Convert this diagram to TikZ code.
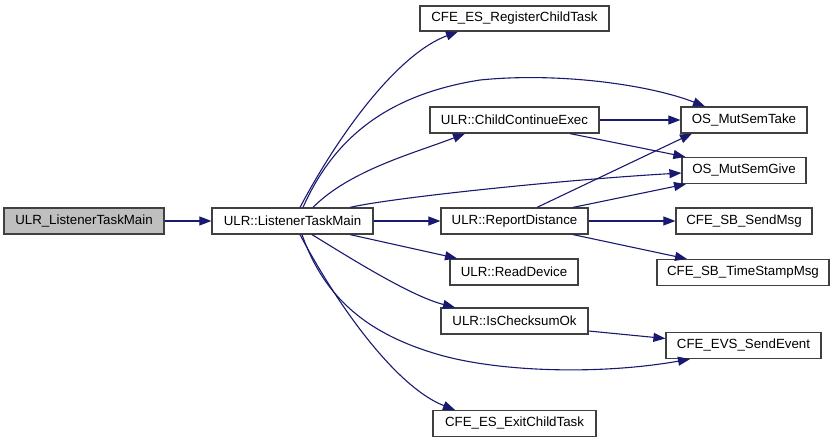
\documentclass[tikz,border=0pt]{standalone}
\usepackage{fontspec}
\setmainfont{Liberation Sans}
\usetikzlibrary{arrows.meta,calc}
\definecolor{edgec}{HTML}{191970}
\definecolor{boxc}{HTML}{404040}
\definecolor{rootgray}{HTML}{BFBFBF}
\begin{document}
\begin{tikzpicture}[x=1pt,y=-1pt,
  fn/.style={draw=boxc, line width=1.2pt, fill=white, minimum height=26pt, inner sep=0pt, font=\fontsize{13.3}{15}\selectfont},
  e/.style={draw=edgec, line width=1.1pt, -{Triangle[length=12pt,width=9pt]}}]
\useasboundingbox (0,0) rectangle (836,443);
\node[fn, fill=rootgray, minimum width=160pt] (root) at (84,221) {ULR\_ListenerTaskMain};
\node[fn, minimum width=161pt] (lm) at (292.5,221) {ULR::ListenerTaskMain};
\node[fn, minimum width=189pt, minimum height=25pt] (reg) at (514.5,18.5) {CFE\_ES\_RegisterChildTask};
\node[fn, minimum width=169pt] (cce) at (514.5,120) {ULR::ChildContinueExec};
\node[fn, minimum width=147pt] (rd) at (514.5,221) {ULR::ReportDistance};
\node[fn, minimum width=128pt] (rdev) at (514,272) {ULR::ReadDevice};
\node[fn, minimum width=147pt] (ico) at (514.5,321) {ULR::IsChecksumOk};
\node[fn, minimum width=163pt] (exit) at (514.5,423.5) {CFE\_ES\_ExitChildTask};
\node[fn, minimum width=126pt] (take) at (744,120) {OS\_MutSemTake};
\node[fn, minimum width=124pt] (give) at (744,170.5) {OS\_MutSemGive};
\node[fn, minimum width=136pt] (send) at (744,221) {CFE\_SB\_SendMsg};
\node[fn, minimum width=172pt] (ts) at (743,272.5) {CFE\_SB\_TimeStampMsg};
\node[fn, minimum width=155pt] (evs) at (743.5,345.5) {CFE\_EVS\_SendEvent};

\draw[e] (root) -- (lm);
\draw[e] ($(lm.north)+(7.5,0)$) .. controls (340,132) and (398,54) .. ($(reg.south)+(-56.5,0)$);
\draw[e] ($(lm.north)+(10.5,0)$) .. controls (333,140) and (385,95) .. (480,80) .. controls (560,72) and (650,85) .. ($(take.north)+(-39,0)$);
\draw[e] ($(lm.north)+(20.5,0)$) .. controls (350,170) and (415,153) .. ($(cce.south)+(-49.5,0)$);
\draw[e] ($(lm.north)+(57.5,0)$) .. controls (390,198) and (560,180) .. ($(give.west)+(0,2.5)$);
\draw[e] (lm) -- (rd);
\draw[e] ($(lm.south)+(57.5,0)$) -- ($(rdev.north)+(-57,0)$);
\draw[e] ($(lm.south)+(19.5,0)$) .. controls (347,256) and (410,296) .. ($(ico.north)+(-59.5,0)$);
\draw[e] ($(lm.south)+(9.5,0)$) .. controls (325,300) and (370,335) .. (440,355) .. controls (500,372) and (600,375) .. ($(evs.south)+(-53.5,0)$);
\draw[e] ($(lm.south)+(7.5,0)$) .. controls (340,310) and (398,388) .. ($(exit.north)+(-59.5,0)$);
\draw[e] (cce) -- (take);
\draw[e] ($(cce.south)+(55.5,0)$) -- ($(give.north west)+(4,0)$);
\draw[e] ($(rd.north)+(22.5,0)$) -- ($(take.south)+(-52,0)$);
\draw[e] ($(rd.north)+(58.5,0)$) -- ($(give.south)+(-58,0)$);
\draw[e] (rd) -- (send);
\draw[e] ($(rd.south)+(58.5,0)$) -- ($(ts.north)+(-56,0)$);
\draw[e] ($(ico.east)+(0,10)$) -- ($(evs.west)+(0,-7)$);
\end{tikzpicture}
\end{document}
